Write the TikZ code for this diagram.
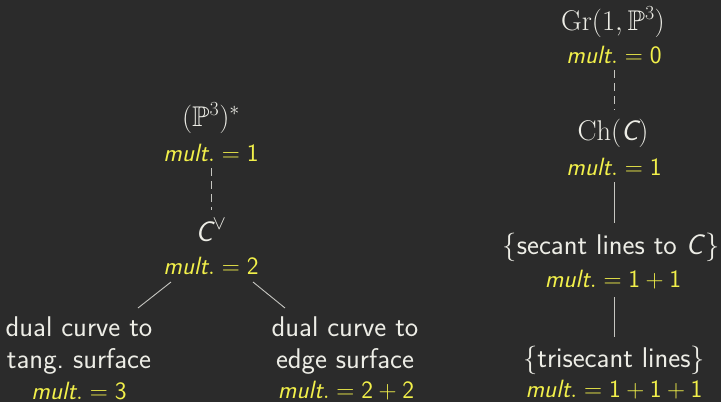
\RequirePackage{fix-cm}
\documentclass[tikz,border=0pt]{standalone}
\usepackage{amsmath,amssymb}
\DeclareFontFamily{U}{msb}{}
\DeclareFontShape{U}{msb}{m}{n}{<-6> msbm5 <6-8> msbm7 <8-> msbm10}{}
\usepackage{fontspec}
\definecolor{board}{HTML}{2B2B2B}
\definecolor{chalk}{HTML}{EDEDE6}
\definecolor{chalky}{HTML}{F2F04A}
\newcommand{\mlt}[1]{$\text{\sffamily\itshape mult}.=#1$}
\newcommand{\sC}{\text{\sffamily\itshape C}}
\tikzset{
  lbl/.style={text=chalk, font=\fontsize{28.5}{32}\selectfont\sffamily, inner sep=2pt, align=center},
  ml/.style={text=chalky, font=\fontsize{25}{30}\selectfont\sffamily, inner sep=2pt},
  conn/.style={draw=chalk!80!board, line width=0.9pt},
  dconn/.style={conn, dash pattern=on 8pt off 5pt}
}
\begin{document}
\begin{tikzpicture}[x=1pt,y=-1pt]
\fill[board] (0,0) rectangle (721,402);
\useasboundingbox (0,0) rectangle (721,402);
% left column
\node[lbl] (p3) at (211,118) {$(\mathbb{P}^3)^*$};
\node[ml] (m1) at (211,153) {\mlt{\mathsf{1}}};
\node[lbl] (cv) at (211,230) {$\sC^{\vee}$};
\node[ml] (m2) at (211,266) {\mlt{\mathsf{2}}};
\node[lbl] (tang) at (79,346) {dual curve to\\tang.\ surface};
\node[ml] (m3) at (79,391) {\mlt{\mathsf{3}}};
\node[lbl] (edge) at (345,346) {dual curve to\\edge surface};
\node[ml] (m4) at (346,391) {\mlt{\mathsf{2}+\mathsf{2}}};
\coordinate (d1a) at (211,168);
\coordinate (d1b) at (211,210);
\draw[dconn] (d1a) -- (d1b);
\coordinate (l1a) at (171,282);
\coordinate (l1b) at (138,308);
\coordinate (l2a) at (253,282);
\coordinate (l2b) at (285,308);
\draw[conn] (l1a) -- (l1b);
\draw[conn] (l2a) -- (l2b);
% right column
\node[lbl] (gr) at (613,22) {$\mathrm{Gr}(1,\mathbb{P}^3)$};
\node[ml] (m0) at (614,55) {\mlt{\mathsf{0}}};
\node[lbl] (ch) at (613,133) {$\mathrm{Ch}(\sC)$};
\node[ml] (m5) at (614,167) {\mlt{\mathsf{1}}};
\node[lbl] (sec) at (611,247) {$\{$secant lines to \textit{C}$\}$};
\node[ml] (m6) at (613,280) {\mlt{\mathsf{1}+\mathsf{1}}};
\node[lbl] (tri) at (614,360) {$\{$trisecant lines$\}$};
\node[ml] (m7) at (614,390) {\mlt{\mathsf{1}+\mathsf{1}+\mathsf{1}}};
\coordinate (r1a) at (614,70);
\coordinate (r1b) at (614,110);
\draw[dconn] (r1a) -- (r1b);
\coordinate (r2a) at (614,182);
\coordinate (r2b) at (614,223);
\draw[conn] (r2a) -- (r2b);
\coordinate (r3a) at (614,297);
\coordinate (r3b) at (614,337);
\draw[conn] (r3a) -- (r3b);
\end{tikzpicture}
\end{document}
